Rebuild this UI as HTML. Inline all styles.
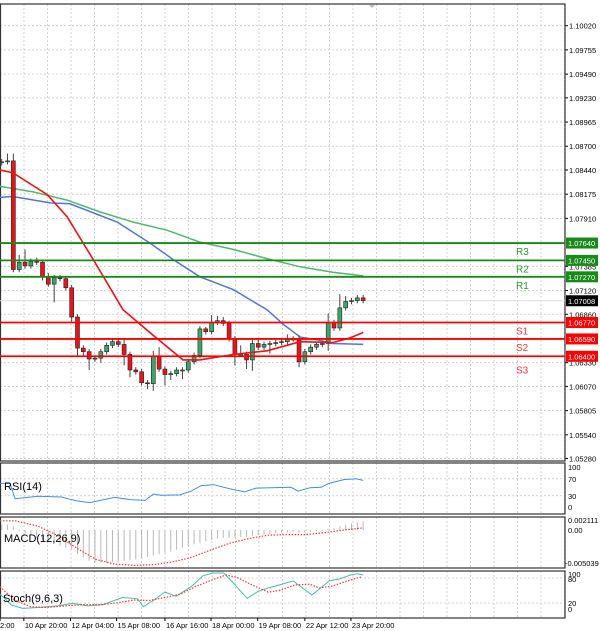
<!DOCTYPE html>
<html><head><meta charset="utf-8"><style>
html,body{margin:0;padding:0;background:#fff;}
svg{display:block;font-family:"Liberation Sans",sans-serif;}
</style></head><body>
<svg id="chart" width="600" height="631" viewBox="0 0 600 631" xmlns="http://www.w3.org/2000/svg"></svg>
<script>
// ---- price data (EURUSD H-bars) ----
const closes=[1.0853,1.0854,1.0735,1.0743,1.0739,1.0744,1.0743,1.0727,1.0719,1.0726,1.0725,1.0715,1.0683,1.0649,1.0645,1.0637,1.0638,1.0645,1.0652,1.0656,1.0653,1.0642,1.0625,1.0623,1.0611,1.0610,1.0640,1.0626,1.0620,1.0621,1.0625,1.0625,1.0634,1.0641,1.0670,1.0667,1.0677,1.0679,1.0676,1.0659,1.0642,1.0642,1.0636,1.0654,1.0650,1.0653,1.0654,1.0655,1.0656,1.0659,1.0659,1.0634,1.0645,1.0650,1.0653,1.0654,1.0677,1.0671,1.0693,1.0700,1.0701,1.0704,1.0701];
const firstOpen=1.0852;
const upperWickPips=[3,8,8,8,14,3,4,3,4,3,3,3,3,3,3,3,3,3,3,3,3,6,3,3,3,3,6,10,3,3,3,3,3,3,3,2,8,5,4,3,3,10,3,5,4,3,3,3,3,5,3,4,3,3,3,3,10,3,15,6,3,3,3];
const lowerWickPips=[3,3,3,3,3,3,3,4,3,20,3,3,5,10,4,12,3,5,3,3,3,12,8,3,3,6,8,3,12,6,3,10,3,3,3,3,3,3,3,3,12,3,10,12,3,3,10,3,3,3,3,6,3,3,3,3,8,3,3,3,3,3,3];
// moving averages: [bar index, price]
const maFastIdx=[-0.3,1.9,7.8,11.2,15.7,20.8,25.4,31.1,34,39.7,45.5,51.2,56.8,59.7,62];
const maFastVal=[1.0844,1.0841,1.0817,1.0793,1.0746,1.0691,1.0666,1.0636,1.0636,1.0642,1.0646,1.0656,1.0655,1.0660,1.0666];
const maMidIdx=[-0.3,1.9,8.3,11.7,19.8,25.4,29.4,34,39.7,45.5,48.3,51.2,54.1,56.8,62];
const maMidVal=[1.0814,1.0815,1.0808,1.0807,1.0787,1.0764,1.0746,1.0727,1.0713,1.0691,1.0675,1.0661,1.0658,1.0654,1.0653];
const maSlowIdx=[-0.3,5.4,11.2,16.9,22.5,28.4,34,39.7,45.5,51.2,56.8,62];
const maSlowVal=[1.0826,1.0820,1.0811,1.0798,1.0787,1.0778,1.0765,1.0757,1.0747,1.0738,1.0732,1.0728];
// pivot levels
const levelNames=["R3","R2","R1","S1","S2","S3"];
const levelValues=[1.0764,1.0745,1.0727,1.0677,1.0659,1.0640];
const currentPrice=1.07008;
const priceTicks=[1.10020,1.09755,1.09490,1.09230,1.08965,1.08700,1.08440,1.08175,1.07910,1.07385,1.07120,1.06860,1.06330,1.06070,1.05805,1.05540,1.05280];
// RSI
const rsiIdx=[-0.3,1.4,2.3,6.2,10.2,12.9,15.1,19.4,22,24.6,26,27.3,30.6,32.5,34.2,36.4,39.2,41.7,43.6,49.6,50.8,52.9,54.8,56.1,58.7,60.8,62];
const rsiVal=[59,59,23,29,27,18,14,26,21,19,34,31,32,41,54,56,46,39,48,50,41,49,50,59,68,70,66];
// MACD (x1e-4)
const macdHist=[8,8,6,-2,-5,-8,-12,-15,-18,-21,-24,-27,-30,-36,-42,-47,-50,-50,-50,-49,-48,-47,-46,-45,-43,-41,-39,-37,-35,-33,-30,-27,-25,-22,-20,-17,-15,-13,-12,-12,-11,-11,-11,-9,-8,-7,-6,-5,-4,-4,-3,-5,-4,-3,-2,-1,2,3,6,8,10,12,13];
const macdSigIdx=[-0.3,2.3,6.2,9.5,12.9,16.2,19.4,22.7,26,29.2,32.5,35.7,39.2,42.4,45.7,48.9,52.2,55.5,58.7,61.8];
const macdSigVal=[14,14,6,-8,-28,-45,-52,-54,-53,-49,-42,-31,-20,-13,-8,-7,-7,-4,0,3];
// Stochastic
const stMainIdx=[-0.3,1.7,3.6,6.3,9.6,12.2,14.8,17.4,20.7,23.3,24.3,26,28,29.9,32.5,34.5,36.2,38.1,39.8,42.1,44,45.7,47.6,50,51.6,53.2,56.2,58.1,59.8,61.1,62];
const stMainVal=[41,15,7,9,13,19,13,16,33,30,11,26,46,36,59,85,92,92,67,31,48,56,63,73,56,39,73,78,87,90,87];
const stSigIdx=[-0.3,2.3,5,7.6,10.9,14.2,17.4,20.1,22.7,25.3,28,30.6,33.2,35.8,38.5,40.4,42.4,45.7,47.6,50.3,52.9,54.5,56.8,59.5,61.8];
const stSigVal=[59,26,11,9,13,16,16,21,27,26,33,41,59,74,87,81,67,46,50,63,65,56,61,74,83];
const timeLabels=["2:00","10 Apr 20:00","12 Apr 04:00","15 Apr 08:00","16 Apr 16:00","18 Apr 00:00","19 Apr 08:00","22 Apr 12:00","23 Apr 20:00"];
const timeLabelBars=[-4,3.8,11.8,19.7,28,35.9,43.9,52,59.9];

const NS="http://www.w3.org/2000/svg";
const svg=document.getElementById('chart');
function mk(tag,attrs,parent){const e=document.createElementNS(NS,tag);for(const k in attrs)e.setAttribute(k,attrs[k]);(parent||svg).appendChild(e);return e;}
const PR=565;
const xBar=i=>1.7+i*5.83;
const yP=p=>25.7+(1.10020-p)/0.00265*24.2;
const yRsi=v=>508.5-v*0.425;
const yMacd=v=>530-v*1e-4*6549;
const yStoch=v=>611.3-v*0.4167;

// panels
const panels=[[4,461],[463,514],[517,568],[571,618]];
// grid verticals
for(let x=0.5;x<PR;x+=23.5){
  for(const [t,b] of panels){
    const g=mk('line',{x1:x,x2:x,y1:t,y2:b,stroke:'#c8c8c8','stroke-dasharray':'2,2','stroke-width':0.8});
    
    
  }
}
// price ticks & horizontal grid
priceTicks.forEach(p=>{
  const y=yP(p);
  const g=mk('line',{x1:0,x2:PR,y1:y,y2:y,stroke:'#c8c8c8','stroke-dasharray':'2,2','stroke-width':0.8});
  
  
  mk('line',{x1:PR,x2:PR+3,y1:y,y2:y,stroke:'#000'});
  const t=mk('text',{x:569,y:y+3,'font-size':7.5,fill:'#000'});
  t.textContent=p.toFixed(5);
  
  
});
// panel grids
[[yRsi(70),yRsi(30)],[yStoch(80),yStoch(20)]].forEach(arr=>arr.forEach(y=>{mk('line',{x1:0,x2:PR,y1:y,y2:y,stroke:'#c8c8c8','stroke-dasharray':'2,2','stroke-width':0.8});}));
// panel frames
panels.forEach(([t,b],k)=>{
  const r=mk('rect',{x:0.5,y:t,width:PR-0.5,height:b-t,fill:'none',stroke:'#333','stroke-width':1.2});
  
  
});
// current price line
mk('line',{x1:0,x2:PR,y1:yP(currentPrice),y2:yP(currentPrice),stroke:'#ddd','stroke-width':1});

// polyline helper
function poly(idx,val,fy,attrs,name){
  const pts=idx.map((i,k)=>xBar(i).toFixed(1)+','+fy(val[k]).toFixed(1)).join(' ');
  const p=mk('polyline',Object.assign({points:pts,fill:'none'},attrs));
  
  
  return p;
}
poly(maSlowIdx,maSlowVal,yP,{stroke:'#4cbb6c','stroke-width':1.5},'ma-slow-line');
poly(maMidIdx,maMidVal,yP,{stroke:'#4f74e0','stroke-width':1.5},'ma-mid-line');

// candles
let prev=firstOpen;
closes.forEach((c,i)=>{
  const o=prev;prev=c;
  const hi=Math.max(o,c)+upperWickPips[i]*1e-4, lo=Math.min(o,c)-lowerWickPips[i]*1e-4;
  const x=xBar(i);
  const w=mk('line',{x1:x,x2:x,y1:yP(hi),y2:yP(lo),stroke:'#444','stroke-width':1});
  
  
  const top=yP(Math.max(o,c)),bot=yP(Math.min(o,c));
  const b=mk('rect',{x:x-2,y:top,width:4,height:Math.max(1,bot-top),fill:c>=o?'#3aa66a':'#e8141a',stroke:'#222','stroke-width':0.6});
  
  
});
poly(maFastIdx,maFastVal,yP,{stroke:'#f21010','stroke-width':1.6},'ma-fast-line');

// pivot levels
levelValues.forEach((v,k)=>{
  const res=levelNames[k][0]==='R';
  const col=res?'#178a17':'#f00';
  const y=yP(v);
  const l=mk('line',{x1:0,x2:PR,y1:y,y2:y,stroke:col,'stroke-width':1.8});
  
  
  const t=mk('text',{x:516,y:y+(k===5?17:12),'font-size':10,fill:res?'#2e9a2e':'#f33'});
  t.textContent=levelNames[k];
  
  
  const r=mk('rect',{x:566,y:y-5.5,width:32,height:11,fill:res?'#178a17':'#f00'});
  
  
  const tt=mk('text',{x:568,y:y+3,'font-size':7.5,fill:'#fff'});
  tt.textContent=v.toFixed(5);
  
  
});
{const y=yP(currentPrice);
 const r=mk('rect',{x:566,y:y-5.5,width:32,height:11,fill:'#000'});
 
 
 const t=mk('text',{x:568,y:y+3,'font-size':7.5,fill:'#fff'});t.textContent=currentPrice.toFixed(5);
 
 }
mk('path',{d:'M369 5 L375 5 L372 8 Z',fill:'#bbb'});

// RSI
poly(rsiIdx,rsiVal,yRsi,{stroke:'#3d8ff0','stroke-width':1},'rsi-line');
[[100,467],[70,479],[30,496],[0,507]].forEach(([v,y])=>{const t=mk('text',{x:568,y:y+3,'font-size':7.5});t.textContent=v;});
{const t=mk('text',{x:4,y:490,'font-size':11,fill:'#000'});t.textContent='RSI(14)';
 
 }

// MACD
macdHist.forEach((v,i)=>{
  const x=xBar(i);
  const b=mk('line',{x1:x,x2:x,y1:yMacd(0),y2:yMacd(v),stroke:'#b8b8b8','stroke-width':1});
  
  
});
poly(macdSigIdx,macdSigVal,yMacd,{stroke:'#f33','stroke-width':1.2,'stroke-dasharray':'1.5,1.5'},'macd-signal-line');
[['0.002111',520],['0.00',530],['-0.005039',563]].forEach(([s,y])=>{const t=mk('text',{x:s[0]==='-'?565:568,y:y+3,'font-size':7.5});t.textContent=s;});
{const t=mk('text',{x:4,y:542,'font-size':11});t.textContent='MACD(12,26,9)';
 
 }

// Stoch
poly(stMainIdx,stMainVal,yStoch,{stroke:'#3cc0b0','stroke-width':1},'stoch-main-line');
poly(stSigIdx,stSigVal,yStoch,{stroke:'#f33','stroke-width':1.2,'stroke-dasharray':'1.5,1.5'},'stoch-signal-line');
[[100,574],[80,579],[20,603],[0,609]].forEach(([v,y])=>{const t=mk('text',{x:568,y:y+3,'font-size':7.5});t.textContent=v;});
{const t=mk('text',{x:3,y:602,'font-size':11});t.textContent='Stoch(9,6,3)';
 
 }

// time axis
timeLabels.forEach((s,k)=>{
  const x=Math.max(0,xBar(timeLabelBars[k]));
  mk('line',{x1:x,x2:x,y1:618,y2:621,stroke:'#000'});
  const t=mk('text',{x:k===0?0:x+1,y:628,'font-size':7.5});
  t.textContent=s;
  
  
});
</script>
</body></html>
